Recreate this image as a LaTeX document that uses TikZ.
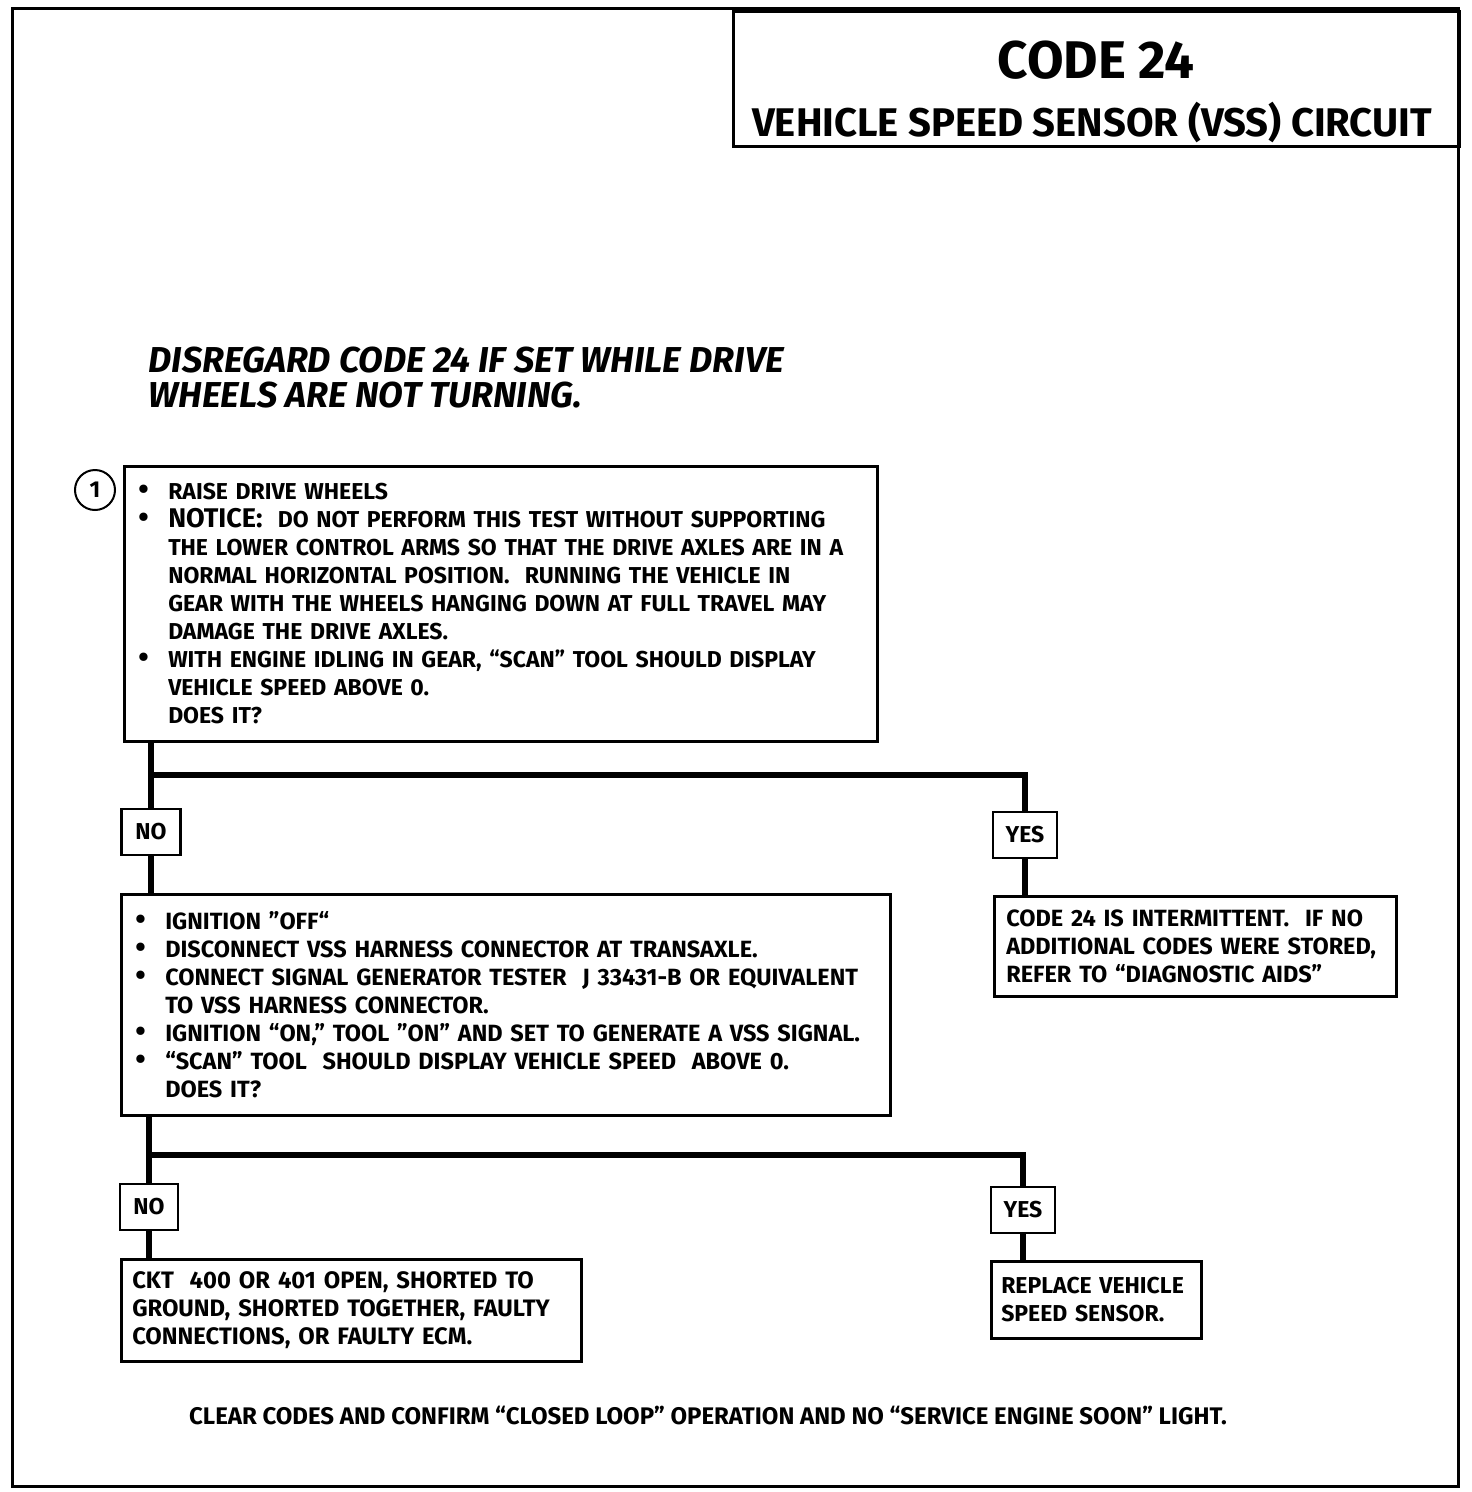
\documentclass[tikz,border=0pt]{standalone}
\usepackage{fontspec}
\setmainfont{Fira Sans}
\newcommand{\stepbullet}{\makebox[30pt][l]{\fontsize{30}{28}\selectfont\textbullet}}
\newcommand{\stepindent}{\hspace*{30pt}}
\newcommand{\bodyfont}{\fontsize{23}{28}\selectfont\bfseries}
\newcommand{\widefont}{\fontsize{23.5}{28}\selectfont\bfseries}
\tikzset{
  stepbox/.style={draw, line width=2.5pt, anchor=north west, align=left,
    font=\bodyfont, inner ysep=0pt},
  answer/.style={draw, line width=2.5pt, minimum height=46, inner sep=0pt,
    font=\bodyfont},
  flow/.style={line width=6pt}
}

\begin{document}
\begin{tikzpicture}[x=1pt, y=-1pt]
\useasboundingbox (0,0) rectangle (1472,1492);
\draw[line width=3pt] (12,8) rectangle (1458,1486);

% title block
\node[draw, line width=2.5pt, anchor=north west, minimum width=726, minimum height=135] (titlebox) at (732,10) {};
\node[anchor=base, font=\fontsize{53}{60}\selectfont\bfseries] (code) at (1096,78) {CODE 24};
\node[anchor=base, font=\fontsize{40}{48}\selectfont\bfseries] (circuit) at (1092,136) {VEHICLE SPEED SENSOR (VSS) CIRCUIT};

\node[anchor=base west, font=\fontsize{36}{40}\selectfont\bfseries\itshape] (noteA) at (145,372) {DISREGARD CODE 24 IF SET WHILE DRIVE};
\node[anchor=base west, font=\fontsize{36}{40}\selectfont\bfseries\itshape] (noteB) at (145,407) {WHEELS ARE NOT TURNING.};

% step boxes
\node[draw, circle, line width=2pt, minimum size=40, inner sep=0pt, font=\bodyfont] (stepone) at (95,490) {1};
\node[stepbox, minimum width=753, minimum height=275, text width=725, inner xsep=14] (box1) at (123,465) {%
\stepbullet RAISE DRIVE WHEELS\\
\stepbullet{\fontsize{27}{28}\selectfont NOTICE:}\ \ DO NOT PERFORM THIS TEST WITHOUT SUPPORTING\\
\stepindent THE LOWER CONTROL ARMS SO THAT THE DRIVE AXLES ARE IN A\\
\stepindent NORMAL HORIZONTAL POSITION.\ \ RUNNING THE VEHICLE IN\\
\stepindent GEAR WITH THE WHEELS HANGING DOWN AT FULL TRAVEL MAY\\
\stepindent DAMAGE THE DRIVE AXLES.\\
\stepbullet WITH ENGINE IDLING IN GEAR, “SCAN” TOOL SHOULD DISPLAY\\
\stepindent VEHICLE SPEED ABOVE 0.\\
\stepindent DOES IT?};

\node[stepbox, font=\widefont, minimum width=769, minimum height=221, text width=741, inner xsep=14] (box2) at (120,893) {%
\stepbullet IGNITION ”OFF“\\
\stepbullet DISCONNECT VSS HARNESS CONNECTOR AT TRANSAXLE.\\
\stepbullet CONNECT SIGNAL GENERATOR TESTER\ \ J 33431-B OR EQUIVALENT\\
\stepindent TO VSS HARNESS CONNECTOR.\\
\stepbullet IGNITION “ON,” TOOL ”ON” AND SET TO GENERATE A VSS SIGNAL.\\
\stepbullet “SCAN” TOOL\ \ SHOULD DISPLAY VEHICLE SPEED\ \ ABOVE 0.\\
\stepindent DOES IT?};

\node[stepbox, font=\widefont, minimum width=402, minimum height=100, text width=378, inner xsep=12] (box3) at (993,895) {%
CODE 24 IS INTERMITTENT.\ \ IF NO\\
ADDITIONAL CODES WERE STORED,\\
REFER TO “DIAGNOSTIC AIDS”};

\node[stepbox, font=\fontsize{23.8}{28}\selectfont\bfseries, minimum width=460, minimum height=102, text width=438, inner xsep=11] (box4) at (120,1258) {%
CKT\ \ 400 OR 401 OPEN, SHORTED TO\\
GROUND, SHORTED TOGETHER, FAULTY\\
CONNECTIONS, OR FAULTY ECM.};

\node[stepbox, font=\fontsize{23}{28}\selectfont\bfseries, minimum width=210, minimum height=77, text width=190, inner xsep=10] (box5) at (990,1260) {%
\mbox{REPLACE VEHICLE}\\
\mbox{SPEED SENSOR.}};

% answers
\foreach \name/\x/\y/\w/\txt in {no1/151/832/59/NO, yes1/1025/835/64/YES,
    no2/149/1207/58/NO, yes2/1023/1210/64/YES}
  \node[answer, minimum width=\w] (\name) at (\x,\y) {\txt};

% connectors
\coordinate (split1) at (151,775);
\coordinate (split2) at (149,1155);
\draw[flow] (box1.south -| no1) -- (no1);
\draw[flow] (split1) -| (yes1);
\draw[flow] (no1) -- (box2.north -| no1);
\draw[flow] (yes1) -- (box3.north -| yes1);
\draw[flow] (box2.south -| no2) -- (no2);
\draw[flow] (split2) -| (yes2);
\draw[flow] (no2) -- (box4.north -| no2);
\draw[flow] (yes2) -- (box5.north -| yes2);

\node[anchor=base, font=\fontsize{24}{28}\selectfont\bfseries] (closing) at (708,1424) {CLEAR CODES AND CONFIRM “CLOSED LOOP” OPERATION AND NO “SERVICE ENGINE SOON” LIGHT.};
\end{tikzpicture}
\end{document}
